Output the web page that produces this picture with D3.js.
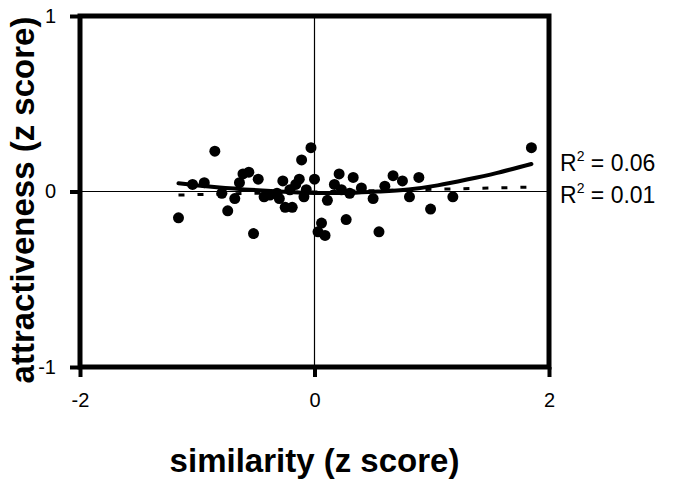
<!DOCTYPE html>
<html>
<head>
<meta charset="utf-8">
<script src="https://cdn.jsdelivr.net/npm/d3@7"></script>
<style>
    body { margin: 0; background: #fff; }
    svg { display: block; font-family: "Liberation Sans", Arial, sans-serif; }
</style>
</head>
<body>
<div id="chart"></div>
<script>
// similarity vs attractiveness, z scores
const simX = [-0.85, -0.03, -0.11, -1.04, -0.94, -0.79, -0.64, -0.61, -0.56, -0.48,
    -0.68, -0.74, -1.16, -0.52, -0.43, -0.38, -0.32, -0.27, -0.30, -0.25,
    -0.19, -0.21, -0.16, -0.13, -0.07, -0.09, 0.00, 0.06, 0.03, 0.09,
    0.11, 0.21, 0.17, 0.23, 0.27, 0.33, 0.30, 0.40, 0.50, 0.55,
    0.60, 0.67, 0.75, 0.81, 0.89, 0.99, 1.18, 1.85];
const attrY = [0.23, 0.25, 0.18, 0.04, 0.05, -0.01, 0.05, 0.10, 0.11, 0.07,
    -0.04, -0.11, -0.15, -0.24, -0.03, -0.02, -0.01, 0.06, -0.04, -0.09,
    -0.09, 0.01, 0.04, 0.07, 0.01, -0.03, 0.07, -0.18, -0.23, -0.25,
    -0.05, 0.10, 0.04, 0.01, -0.16, 0.08, -0.01, 0.02, -0.04, -0.23,
    0.03, 0.09, 0.06, -0.03, 0.08, -0.10, -0.03, 0.25];

// quadratic fit (solid) and linear fit (dashed)
const quadX = [-1.16, -0.9, -0.6, -0.3, 0, 0.3, 0.55, 0.8, 1.05, 1.3, 1.55, 1.85];
const quadY = [0.047, 0.028, 0.012, 0.0, -0.008, -0.008, 0.0, 0.012, 0.035, 0.068, 0.105, 0.157];
const linX = [-1.16, 1.85];
const linY = [-0.02, 0.025];

const xTicks = [-2, 0, 2];
const yTicks = [-1, 0, 1];
const r2Labels = ['0.06', '0.01'];

const width = 673, height = 479;
const margin = { top: 16, right: 124, bottom: 112, left: 80 };

const svg = d3.select('#chart')
    .append('svg')
    .attr('width', width)
    .attr('height', height);

const x = d3.scaleLinear()
    .domain([-2, 2])
    .range([margin.left, width - margin.right]);

const y = d3.scaleLinear()
    .domain([-1, 1])
    .range([height - margin.bottom, margin.top]);

// zero reference lines
svg.append('line')
    .attr('x1', x(-2)).attr('x2', x(2))
    .attr('y1', y(0)).attr('y2', y(0))
    .attr('stroke', '#000').attr('stroke-width', 1.2);

svg.append('line')
    .attr('x1', x(0)).attr('x2', x(0))
    .attr('y1', y(-1)).attr('y2', y(1))
    .attr('stroke', '#000').attr('stroke-width', 1.2);

// axes (ticks only, frame drawn separately)
const xAxis = svg.append('g')
    .attr('transform', `translate(0,${y(-1)})`)
    .call(d3.axisBottom(x).tickValues(xTicks).tickSize(10).tickPadding(16).tickFormat(d3.format('d')));

const yAxis = svg.append('g')
    .attr('transform', `translate(${x(-2)},0)`)
    .call(d3.axisLeft(y).tickValues(yTicks).tickSize(10).tickPadding(14).tickFormat(d3.format('d')));

[xAxis, yAxis].forEach(g => {
    g.select('.domain').remove();
    g.selectAll('line').attr('stroke', '#000').attr('stroke-width', 4);
    g.selectAll('text')
        .attr('fill', '#000')
        .style('font-size', '20px')
        .style('font-family', '"Liberation Sans", Arial, sans-serif');
});
xAxis.selectAll('text').text(d => d < 0 ? '-' + Math.abs(d) : d);
yAxis.selectAll('text').text(d => d < 0 ? '-' + Math.abs(d) : d);

// frame
svg.append('rect')
    .attr('x', x(-2))
    .attr('y', y(1))
    .attr('width', x(2) - x(-2))
    .attr('height', y(-1) - y(1))
    .attr('fill', 'none')
    .attr('stroke', '#000')
    .attr('stroke-width', 5);

// points
svg.append('g')
    .selectAll('circle')
    .data(simX.map((d, i) => ({ sx: d, ay: attrY[i] })))
    .enter()
    .append('circle')
    .attr('cx', d => x(d.sx))
    .attr('cy', d => y(d.ay))
    .attr('r', 5.5)
    .attr('fill', '#000');

// fit lines
const line = d3.line()
    .x(d => x(d[0]))
    .y(d => y(d[1]));

svg.append('path')
    .datum(linX.map((d, i) => [d, linY[i]]))
    .attr('d', line)
    .attr('fill', 'none')
    .attr('stroke', '#000')
    .attr('stroke-width', 3)
    .attr('stroke-dasharray', '6,13');

svg.append('path')
    .datum(quadX.map((d, i) => [d, quadY[i]]))
    .attr('d', line.curve(d3.curveNatural))
    .attr('fill', 'none')
    .attr('stroke', '#000')
    .attr('stroke-width', 4)
    .attr('stroke-linecap', 'round');

// R^2 labels
r2Labels.forEach((v, i) => {
    const t = svg.append('text')
        .attr('x', 560)
        .attr('y', 171 + i * 32)
        .style('font-size', '23px')
        .attr('fill', '#000');
    t.append('tspan').text('R');
    t.append('tspan').attr('dy', -10).style('font-size', '14px').text('2');
    t.append('tspan').attr('dy', 10).text(' = ' + v);
});

// axis titles
svg.append('text')
    .attr('x', x(0))
    .attr('y', 472)
    .attr('text-anchor', 'middle')
    .style('font-size', '33px')
    .style('font-weight', 'bold')
    .text('similarity (z score)');

svg.append('text')
    .attr('transform', 'rotate(-90)')
    .attr('x', -200)
    .attr('y', 34)
    .attr('text-anchor', 'middle')
    .style('font-size', '33px')
    .style('font-weight', 'bold')
    .text('attractiveness (z score)');
</script>
</body>
</html>
